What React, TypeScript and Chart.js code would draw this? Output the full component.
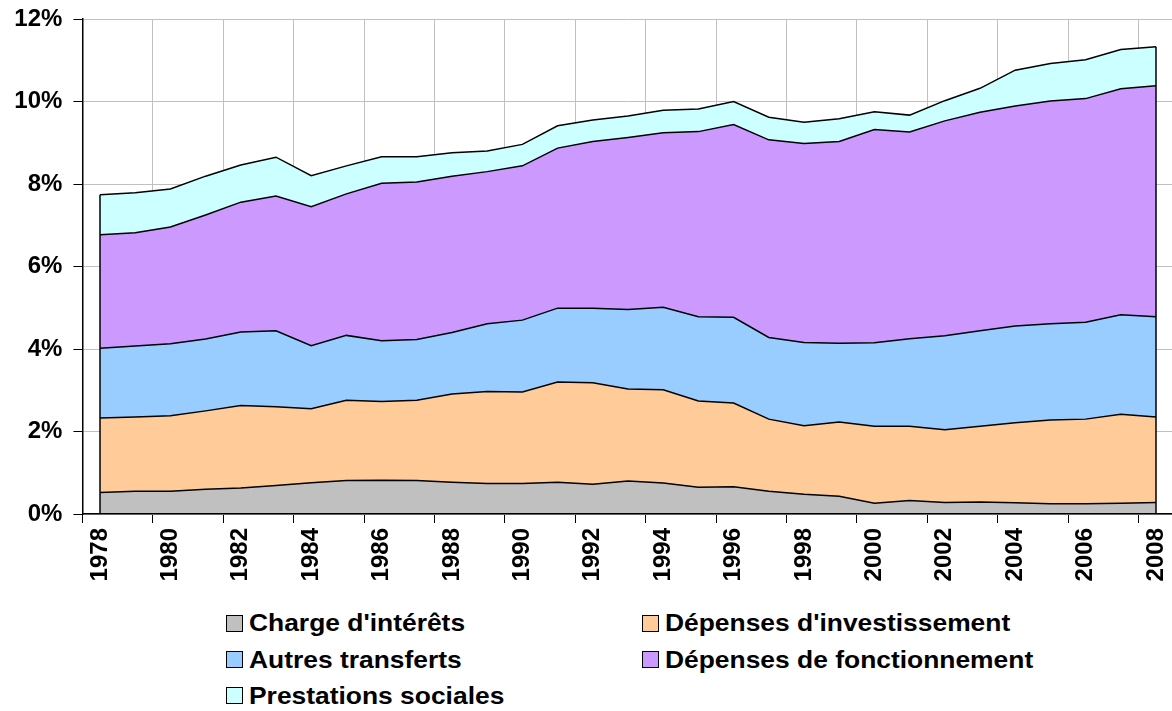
import React, { useEffect, useRef } from "react";
import { Chart, registerables } from "chart.js";

Chart.register(...registerables);

const years = [
  "1978", "1979", "1980", "1981", "1982", "1983", "1984", "1985", "1986", "1987",
  "1988", "1989", "1990", "1991", "1992", "1993", "1994", "1995", "1996", "1997",
  "1998", "1999", "2000", "2001", "2002", "2003", "2004", "2005", "2006", "2007", "2008",
];

// Values in % (stacked)
const chargeInterets = [
  0.52, 0.55, 0.55, 0.6, 0.63, 0.69, 0.76, 0.81, 0.82, 0.81,
  0.77, 0.74, 0.74, 0.77, 0.72, 0.8, 0.75, 0.65, 0.66, 0.55,
  0.48, 0.43, 0.26, 0.33, 0.28, 0.29, 0.27, 0.25, 0.25, 0.26, 0.28,
];
const depensesInvestissement = [
  1.81, 1.8, 1.83, 1.9, 2.0, 1.91, 1.79, 1.95, 1.91, 1.95,
  2.14, 2.23, 2.22, 2.43, 2.46, 2.23, 2.26, 2.09, 2.03, 1.75,
  1.66, 1.8, 1.87, 1.8, 1.76, 1.84, 1.94, 2.03, 2.05, 2.16, 2.07,
];
const autresTransferts = [
  1.69, 1.72, 1.75, 1.74, 1.78, 1.84, 1.53, 1.57, 1.47, 1.47,
  1.49, 1.64, 1.74, 1.79, 1.81, 1.93, 2.0, 2.04, 2.08, 1.98,
  2.02, 1.91, 2.02, 2.12, 2.28, 2.31, 2.35, 2.33, 2.35, 2.41, 2.43,
];
const depensesFonctionnement = [
  2.75, 2.75, 2.83, 3.01, 3.15, 3.27, 3.37, 3.43, 3.82, 3.82,
  3.79, 3.69, 3.74, 3.88, 4.04, 4.17, 4.23, 4.49, 4.67, 4.79,
  4.82, 4.89, 5.17, 5.01, 5.21, 5.3, 5.33, 5.4, 5.42, 5.48, 5.6,
];
const prestationsSociales = [
  0.97, 0.97, 0.92, 0.94, 0.9, 0.94, 0.75, 0.68, 0.64, 0.61,
  0.57, 0.5, 0.52, 0.54, 0.52, 0.52, 0.55, 0.55, 0.56, 0.55,
  0.52, 0.55, 0.43, 0.41, 0.49, 0.58, 0.87, 0.91, 0.94, 0.95, 0.95,
];

const seriesNames = [
  "Charge d'intérêts",
  "Dépenses d'investissement",
  "Autres transferts",
  "Dépenses de fonctionnement",
  "Prestations sociales",
];
const seriesData = [
  chargeInterets,
  depensesInvestissement,
  autresTransferts,
  depensesFonctionnement,
  prestationsSociales,
];
const seriesColors = ["#C0C0C0", "#FFCC99", "#99CCFF", "#CC99FF", "#CCFFFF"];

const FONT_FAMILY = "'Liberation Sans', Arial, sans-serif";

const edgePlugin = {
  id: "edges",
  afterDatasetsDraw(chart: any) {
    const n = chart.data.datasets.length;
    const pts = chart.getDatasetMeta(n - 1).data;
    if (!pts || !pts.length) return;
    const y0 = chart.scales.y.getPixelForValue(0);
    const ctx = chart.ctx;
    ctx.save();
    ctx.strokeStyle = "#000";
    ctx.lineWidth = 1.5;
    [pts[0], pts[pts.length - 1]].forEach((p: any) => {
      ctx.beginPath();
      ctx.moveTo(p.x, y0);
      ctx.lineTo(p.x, p.y);
      ctx.stroke();
    });
    ctx.restore();
  },
};

export default function App() {
  const canvasRef = useRef<HTMLCanvasElement | null>(null);

  useEffect(() => {
    if (!canvasRef.current) return;
    const chart = new Chart(canvasRef.current, {
      type: "line",
      data: {
        labels: years,
        datasets: seriesData.map((d, i) => ({
          label: seriesNames[i],
          data: d,
          backgroundColor: seriesColors[i],
          borderColor: "#000",
          borderWidth: 1.5,
          pointRadius: 0,
          pointHoverRadius: 0,
          tension: 0,
          fill: i === 0 ? "origin" : "-1",
        })),
      },
      options: {
        animation: false,
        responsive: true,
        maintainAspectRatio: false,
        events: [],
        layout: { padding: { top: 19, right: 6.4, bottom: 0, left: 0 } },
        plugins: {
          legend: { display: false },
          tooltip: { enabled: false },
        },
        scales: {
          x: {
            type: "category",
            offset: true,
            grid: {
              offset: true,
              color: (c: any) => (c.index % 2 === 0 ? "#C0C0C0" : "rgba(0,0,0,0)"),
              tickColor: (c: any) => (c.index % 2 === 0 ? "#000" : "rgba(0,0,0,0)"),
              tickLength: 9,
              lineWidth: 1,
            },
            border: { color: "#000", width: 1.5, z: 1 },
            ticks: {
              autoSkip: false,
              minRotation: 90,
              maxRotation: 90,
              padding: 5,
              color: "#000",
              font: { family: FONT_FAMILY, size: 24, weight: "bold" },
              callback: (_v: any, i: number) => (i % 2 === 0 ? years[i] : ""),
            },
            afterFit: (s: any) => {
              s.height = 86;
              s.paddingLeft = 0;
              s.paddingRight = 0;
            },
          },
          y: {
            stacked: true,
            min: 0,
            max: 12,
            grid: { color: "#C0C0C0", tickColor: "#000", tickLength: 9, lineWidth: 1 },
            border: { color: "#000", width: 1.5, z: 1 },
            ticks: {
              stepSize: 2,
              padding: 11,
              color: "#000",
              font: { family: FONT_FAMILY, size: 24, weight: "bold" },
              callback: (v: any) => v + "%",
            },
            afterFit: (s: any) => {
              s.width = 82.4;
              s.paddingTop = 0;
              s.paddingBottom = 0;
            },
          },
        },
      },
      plugins: [edgePlugin],
    });
    return () => chart.destroy();
  }, []);

  const colLeft = [226, 642];
  const rowCenter = [623.3, 659.5, 695.7];

  return (
    <div
      style={{
        position: "fixed",
        left: 0,
        top: 0,
        width: 1172,
        height: 711,
        overflow: "hidden",
        background: "#fff",
      }}
    >
      <div style={{ position: "absolute", left: 0, top: 0, width: 1180, height: 600 }}>
        <canvas ref={canvasRef} />
      </div>
      {seriesNames.map((name, i) => (
        <div
          key={name}
          style={{
            position: "absolute",
            left: colLeft[i % 2],
            top: rowCenter[Math.floor(i / 2)] - 15,
            height: 30,
            display: "flex",
            alignItems: "center",
            fontFamily: FONT_FAMILY,
            fontWeight: "bold",
            fontSize: 24,
            color: "#000",
            whiteSpace: "nowrap",
          }}
        >
          <span
            style={{
              display: "inline-block",
              width: 15,
              height: 15,
              border: "1px solid #000",
              background: seriesColors[i],
              marginRight: 6,
            }}
          />
          <span style={{ display: "inline-block", transform: "scaleX(1.1)", transformOrigin: "left center" }}>
            {name}
          </span>
        </div>
      ))}
    </div>
  );
}
